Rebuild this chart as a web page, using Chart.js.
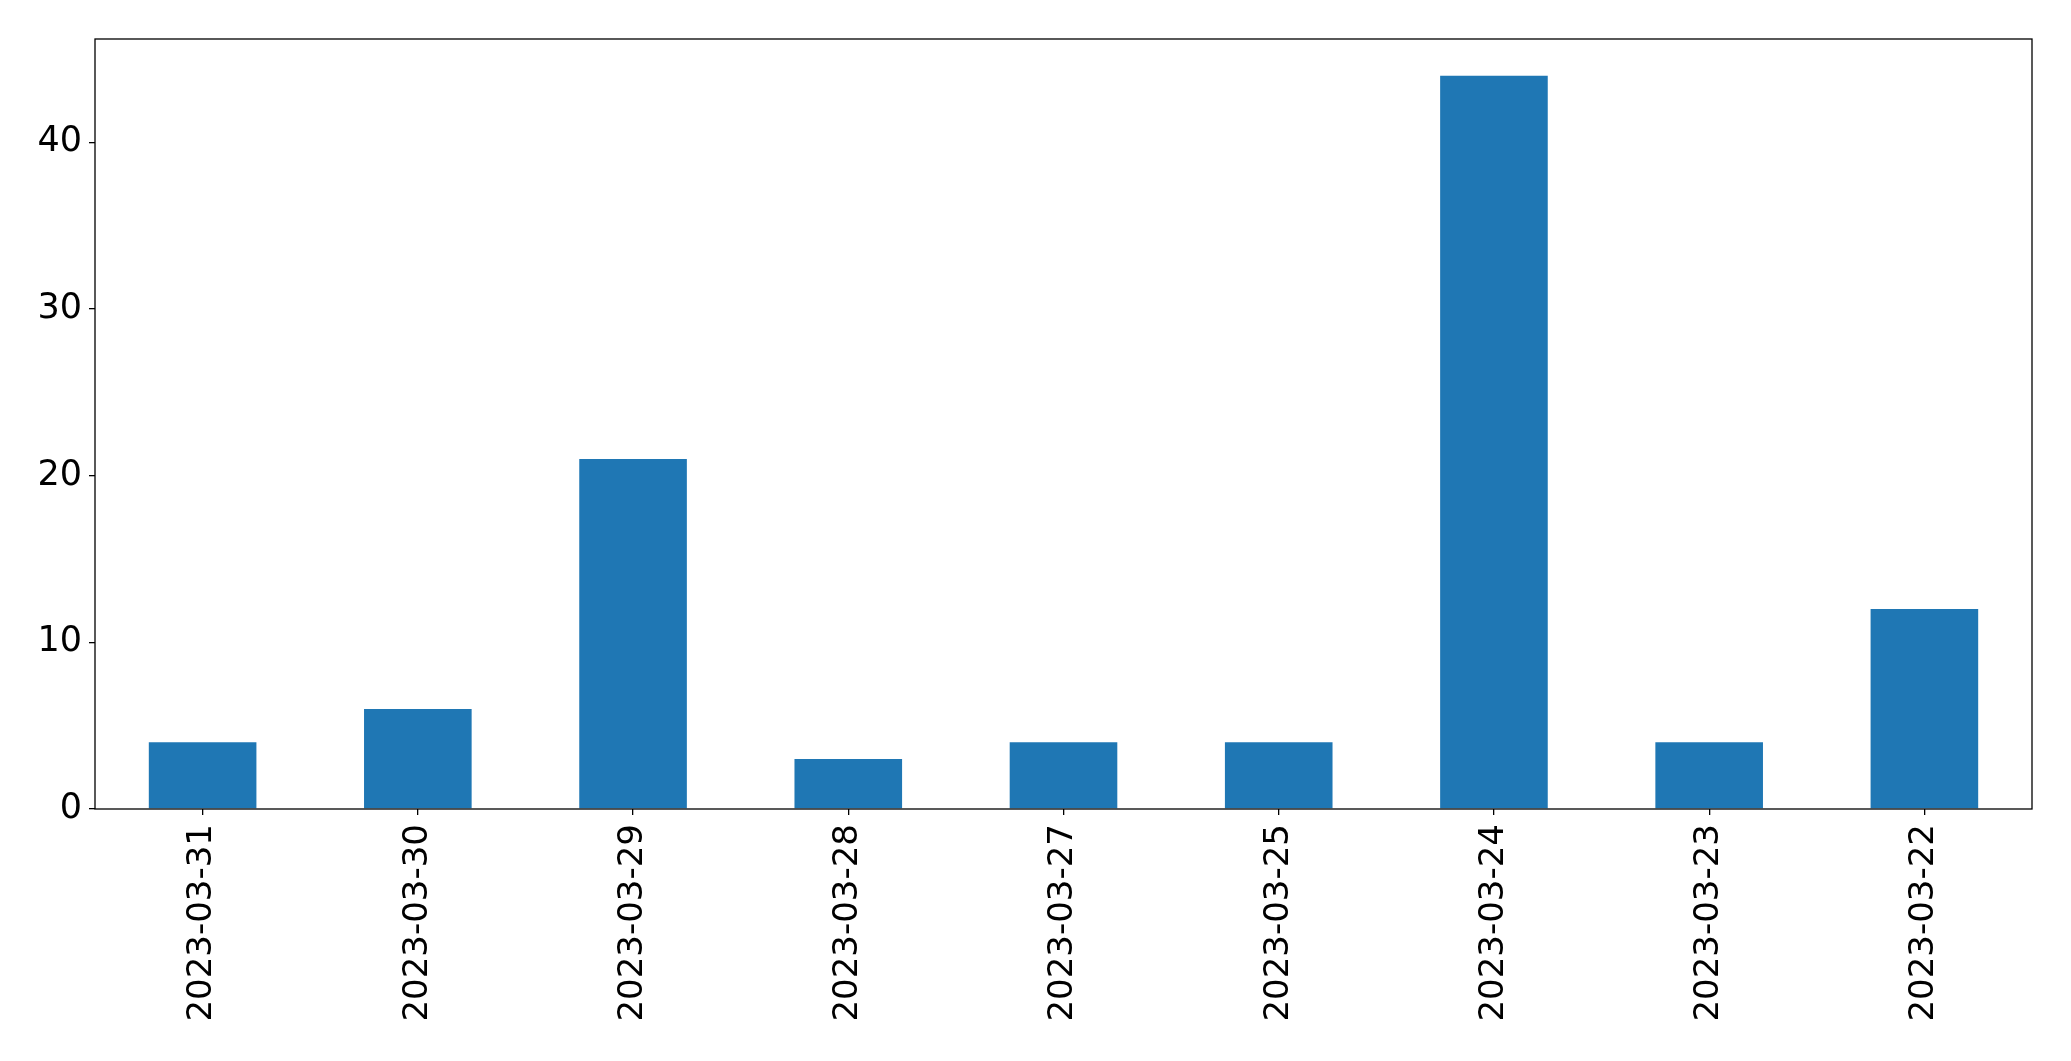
<!DOCTYPE html>
<html>
<head>
<meta charset="utf-8">
<script src="https://cdn.jsdelivr.net/npm/chart.js@4/dist/chart.umd.min.js"></script>
<style>
  html, body { margin: 0; padding: 0; background: #fff; }
  #wrap { width: 2071px; height: 1061px; }
</style>
</head>
<body>
<div id="wrap"><canvas id="chart" width="2071" height="1061"></canvas></div>
<script>
// data
const dates = ['2023-03-31', '2023-03-30', '2023-03-29', '2023-03-28', '2023-03-27',
               '2023-03-25', '2023-03-24', '2023-03-23', '2023-03-22'];
const counts = [4, 6, 21, 3, 4, 4, 44, 4, 12];
const yTicks = [0, 10, 20, 30, 40];
const yMax = 46.2;

// draws the black box round the plot area
const frame = {
  id: 'frame',
  afterDraw(chart) {
    const a = chart.chartArea;
    const ctx = chart.ctx;
    ctx.save();
    ctx.strokeStyle = '#000';
    ctx.lineWidth = 1.3;
    ctx.strokeRect(a.left, a.top, a.right - a.left, a.bottom - a.top);
    ctx.restore();
  }
};

Chart.defaults.font.family = '"DejaVu Sans", sans-serif';
Chart.defaults.color = '#000';

new Chart(document.getElementById('chart'), {
  type: 'bar',
  data: {
    labels: dates,
    datasets: [{
      data: counts,
      backgroundColor: '#1f77b4',
      borderWidth: 0,
      categoryPercentage: 0.5,
      barPercentage: 1.0
    }]
  },
  options: {
    responsive: false,
    animation: false,
    layout: { padding: { top: 39, right: 39, left: 0, bottom: 0 } },
    plugins: { legend: { display: false }, tooltip: { enabled: false } },
    scales: {
      x: {
        offset: true,
        grid: { display: true, drawOnChartArea: false, drawTicks: true, tickLength: 6, offset: false, color: '#000', lineWidth: 1.3 },
        border: { display: false },
        ticks: { font: { size: 34 }, maxRotation: 90, minRotation: 90, padding: 9, autoSkip: false },
        afterFit(scale) { scale.height = 1061 - 809; }
      },
      y: {
        min: 0,
        max: yMax,
        grid: { display: true, drawOnChartArea: false, drawTicks: true, tickLength: 6, color: '#000', lineWidth: 1.3 },
        border: { display: false },
        ticks: { font: { size: 35 }, padding: 7 },
        afterBuildTicks(scale) { scale.ticks = yTicks.map(v => ({ value: v })); },
        afterFit(scale) { scale.width = 95; }
      }
    }
  },
  plugins: [frame]
});
</script>
</body>
</html>
